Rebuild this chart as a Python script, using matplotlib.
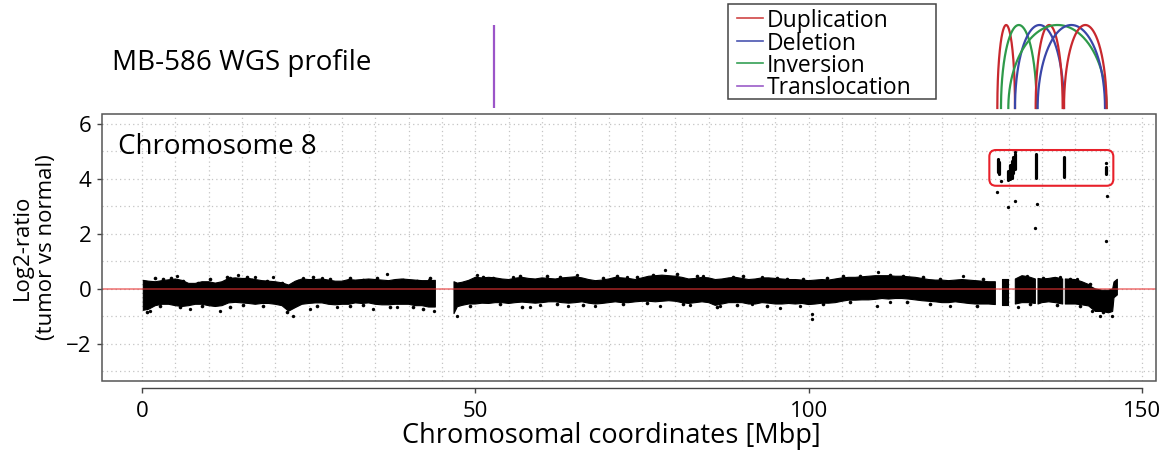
import numpy as np
import matplotlib
matplotlib.use("Agg")
import matplotlib.pyplot as plt
from matplotlib.patches import Rectangle, FancyBboxPatch

plt.rcParams['font.family'] = ['Open Sans', 'DejaVu Sans']

# ---------------- data ----------------
title = "MB-586 WGS profile"
chrom_label = "Chromosome 8"
x_label = "Chromosomal coordinates [Mbp]"
y_label_1 = "Log2-ratio"
y_label_2 = "(tumor vs normal)"
x_ticks = [0, 50, 100, 150]
y_ticks = [-2, 0, 2, 4, 6]

# envelope of the dense log2-ratio cloud (Mbp, upper, lower)
seg1_x = [0.2] + list(range(1, 45))
seg1_hi = [0.31, 0.28, 0.26, 0.30, 0.33, 0.36, 0.31, 0.20, 0.20, 0.26,
           0.26, 0.21, 0.26, 0.38, 0.40, 0.38, 0.38, 0.34, 0.30, 0.28,
           0.26, 0.22, 0.14, 0.28, 0.36, 0.34, 0.34, 0.36, 0.32, 0.28,
           0.28, 0.34, 0.32, 0.34, 0.36, 0.34, 0.32, 0.30, 0.34, 0.36,
           0.34, 0.32, 0.30, 0.30, 0.31]
seg1_lo = [-0.78, -0.74, -0.61, -0.56, -0.56, -0.61, -0.64, -0.61, -0.56, -0.56,
           -0.61, -0.64, -0.61, -0.51, -0.49, -0.51, -0.53, -0.56, -0.53, -0.53,
           -0.56, -0.61, -0.81, -0.68, -0.56, -0.53, -0.51, -0.51, -0.56, -0.58,
           -0.56, -0.56, -0.51, -0.53, -0.51, -0.56, -0.58, -0.58, -0.56, -0.56,
           -0.56, -0.61, -0.61, -0.66, -0.66]

seg2_x = [46.8, 47.3] + list(range(48, 129))
seg2_hi = [0.26, 0.21,
           0.24, 0.31,
           0.42, 0.40, 0.42, 0.40, 0.36, 0.34, 0.39, 0.42, 0.38, 0.36,
           0.40, 0.38, 0.36, 0.40, 0.42, 0.44, 0.40, 0.34, 0.30, 0.32,
           0.36, 0.42, 0.40, 0.38, 0.34, 0.40, 0.46, 0.48, 0.50, 0.48,
           0.46, 0.42, 0.36, 0.38, 0.42, 0.40, 0.34, 0.36, 0.40, 0.42,
           0.38, 0.34, 0.36, 0.40, 0.40, 0.38, 0.36, 0.34, 0.34, 0.32,
           0.30, 0.32, 0.34, 0.32, 0.36, 0.40, 0.42, 0.42, 0.44, 0.46,
           0.48, 0.48, 0.48, 0.46, 0.46, 0.44, 0.42, 0.38, 0.34, 0.32,
           0.32, 0.30, 0.32, 0.34, 0.32, 0.30, 0.28, 0.26, 0.26]
seg2_lo = [-0.90, -0.65,
           -0.60, -0.55,
           -0.55, -0.52, -0.53, -0.50, -0.50, -0.53, -0.50, -0.48, -0.50, -0.52,
           -0.50, -0.47, -0.47, -0.50, -0.52, -0.50, -0.47, -0.52, -0.55, -0.53,
           -0.50, -0.47, -0.50, -0.50, -0.47, -0.45, -0.45, -0.47, -0.45, -0.43,
           -0.45, -0.50, -0.53, -0.50, -0.47, -0.50, -0.60, -0.55, -0.50, -0.50,
           -0.50, -0.55, -0.55, -0.50, -0.52, -0.55, -0.55, -0.53, -0.55, -0.53,
           -0.57, -0.55, -0.52, -0.52, -0.50, -0.45, -0.41, -0.41, -0.40, -0.40,
           -0.38, -0.35, -0.37, -0.35, -0.35, -0.37, -0.40, -0.43, -0.45, -0.47,
           -0.50, -0.50, -0.47, -0.50, -0.53, -0.55, -0.55, -0.55, -0.57]

seg3_x = [129.0, 129.9]
seg3_hi = [0.36, 0.36]
seg3_lo = [-0.58, -0.58]

seg4_x = [131.0, 132.0, 133.0, 134.0]
seg4_hi = [0.36, 0.48, 0.44, 0.36]
seg4_lo = [-0.55, -0.50, -0.50, -0.53]

seg5_x = [134.4, 135.0, 136.0, 137.0, 138.1]
seg5_hi = [0.38, 0.36, 0.38, 0.42, 0.36]
seg5_lo = [-0.55, -0.50, -0.47, -0.50, -0.55]

seg6_x = [138.5, 140.0, 141.0, 142.0, 142.5, 143.0, 144.0, 145.0, 145.6, 145.8, 146.3]
seg6_hi = [0.36, 0.34, 0.26, 0.16, 0.06, 0.00, -0.05, -0.05, 0.00, 0.25, 0.35]
seg6_lo = [-0.55, -0.55, -0.58, -0.62, -0.72, -0.82, -0.82, -0.87, -0.82, -0.32, -0.22]

# isolated points outside the dense cloud
outlier_x = [1.2, 5.2, 7.2, 11.7, 14.45, 16.95, 19.7, 22.7, 24.2, 25.2, 26.95, 29.2, 34.7, 36.7, 38.2, 43.1, 43.8,
             47.2, 50.2, 55.7, 58.2, 59.7, 63.95, 65.2, 67.95, 72.7, 77.7, 78.45, 82.2, 84.2, 86.7, 91.45, 92.95, 95.7,
             98.7, 100.55, 100.55, 110.2, 110.45, 112.2, 121.2, 123.2, 131.45, 132.7, 137.7, 140.2, 142.45, 143.7, 145.45]
outlier_y = [-0.79, 0.46, -0.73, -0.79, 0.52, 0.42, 0.42, -0.97, 0.40, -0.73, 0.40, -0.67, -0.73, 0.55, -0.67, 0.34, -0.82,
             -0.97, 0.51, 0.42, -0.67, -0.58, -0.63, 0.51, -0.61, 0.42, -0.61, 0.67, -0.58, 0.46, -0.63, -0.55, 0.42, -0.70,
             -0.61, -1.09, -0.91, -0.61, 0.61, -0.48, -0.61, 0.46, -0.67, 0.46, 0.42, 0.36, -0.79, -0.97, -0.97]

# points on the ragged upper and lower edge of the cloud
edge_x = [1.95, 3.2, 4.3, 6.2, 8.45, 10.2, 12.7, 13.2, 15.7, 16.45, 18.7, 20.95, 23.45, 25.7, 28.2, 31.2, 33.2,
          35.2, 39.2, 41.2, 43.2,
          0.7, 2.7, 5.7, 8.95, 13.2, 15.2, 18.2, 21.7, 26.2, 31.2, 33.2, 37.2, 40.7, 42.2,
          51.2, 52.7, 56.7, 60.7, 62.7, 69.2, 71.2, 74.2, 76.7, 80.2, 83.2, 88.7, 90.2, 95.2, 96.7,
          49.2, 53.7, 56.95, 62.2, 66.2, 72.2, 75.7, 81.2, 86.2, 89.2, 93.7,
          99.2, 102.7, 105.2, 107.7, 112.2, 114.2, 117.2, 119.7, 126.2, 135.2, 139.2, 142.2,
          102.2, 106.2, 114.7, 118.2, 125.2, 133.2, 137.2, 140.7, 144.2]
edge_y = [0.39, 0.36, 0.40, 0.30, 0.22, 0.36, 0.42, 0.39, 0.42, 0.34, 0.30, 0.22, 0.30, 0.42, 0.36, 0.39, 0.34,
          0.39, 0.34, 0.30, 0.39,
          -0.85, -0.61, -0.67, -0.63, -0.67, -0.58, -0.63, -0.85, -0.61, -0.63, -0.58, -0.67, -0.67, -0.73,
          0.42, 0.39, 0.48, 0.46, 0.42, 0.39, 0.46, 0.42, 0.51, 0.55, 0.46, 0.42, 0.46, 0.39, 0.36,
          -0.61, -0.55, -0.67, -0.55, -0.58, -0.55, -0.51, -0.55, -0.67, -0.58, -0.61,
          0.36, 0.39, 0.46, 0.48, 0.51, 0.48, 0.42, 0.36, 0.36, 0.39, 0.36, 0.18,
          -0.55, -0.48, -0.46, -0.55, -0.61, -0.55, -0.58, -0.61, -0.85]

# amplified segments (vertical streaks of points) and their stray points
amp_x = [128.35, 128.6, 129.95, 130.2, 130.45, 130.7, 130.95, 134.1, 138.3, 144.6]
amp_lo = [4.25, 4.18, 3.95, 4.00, 4.05, 4.20, 4.35, 4.02, 4.06, 4.18]
amp_hi = [4.72, 4.60, 4.30, 4.50, 4.65, 4.80, 4.90, 4.89, 4.81, 4.45]
amp_pt_x = [128.85, 128.3, 129.95, 131.0, 134.3, 133.95, 144.7, 144.55, 144.6, 130.95]
amp_pt_y = [3.93, 3.52, 2.96, 3.20, 3.09, 2.23, 3.39, 1.74, 4.57, 4.96]

# highlighted amplicon region: x0, x1, y0, y1
amp_box = [127.1, 145.7, 3.75, 5.05]

# structural variants (Mbp)
sv_type = ['Duplication', 'Inversion', 'Deletion', 'Duplication', 'Inversion', 'Deletion', 'Duplication']
sv_start = [128.3, 128.85, 130.95, 134.05, 129.95, 134.35, 138.3]
sv_end = [130.95, 134.2, 138.3, 138.1, 144.7, 144.45, 144.7]
trans_pos = [52.8]

legend_labels = ['Duplication', 'Deletion', 'Inversion', 'Translocation']
legend_colors = ['#d04545', '#4a55b0', '#35a055', '#9b5cc8']
arc_colors = {'Duplication': '#c8282e', 'Deletion': '#3a46a8', 'Inversion': '#2e9a4a',
              'Translocation': '#9b55c8'}

# ---------------- figure ----------------
W, H = 1166, 462
fig = plt.figure(figsize=(W / 100, H / 100), dpi=100)
L, R, T, B = 102, 1156, 114, 381
XLIM = (-6.0, 152.1)
ax = fig.add_axes([L / W, 1 - B / H, (R - L) / W, (B - T) / H])
ax.set_xlim(*XLIM)
ax.set_ylim(-3.35, 6.36)

ax.set_xticks(x_ticks)
ax.set_xticks(np.arange(0, 151, 5), minor=True)
ax.set_yticks(y_ticks)
ax.set_yticks(np.arange(-3, 7, 1), minor=True)
ax.grid(True, which='both', color='#c4c4c4', linestyle=(0, (1, 2.5)), linewidth=0.9)
ax.set_axisbelow(True)
ax.tick_params(which='minor', length=0)
ax.tick_params(which='major', direction='out', length=3.6, width=1.0, color='#444444',
               labelsize=16, pad=4)
ax.tick_params(axis='x', pad=6)
for s in ['top', 'right', 'left']:
    ax.spines[s].set_visible(False)
ax.spines['bottom'].set_position(('outward', 5))
ax.spines['bottom'].set_bounds(0, 150)
ax.spines['bottom'].set_color('#444444')
ax.spines['bottom'].set_linewidth(1.0)
ax.add_patch(Rectangle((0, 0), 1, 1, transform=ax.transAxes, fill=False,
                       ec='#555555', lw=1.1, clip_on=False, zorder=6))

# cloud
nan = [np.nan]
cx = seg1_x + nan + seg2_x + nan + seg3_x + nan + seg4_x + nan + seg5_x + nan + seg6_x
chi = seg1_hi + nan + seg2_hi + nan + seg3_hi + nan + seg4_hi + nan + seg5_hi + nan + seg6_hi
clo = seg1_lo + nan + seg2_lo + nan + seg3_lo + nan + seg4_lo + nan + seg5_lo + nan + seg6_lo
ax.fill_between(cx, clo, chi, color='black', lw=0.8, zorder=2)
ax.plot(edge_x, edge_y, 'o', ms=2.6, color='black', mew=0, zorder=3)
ax.plot(outlier_x, outlier_y, 'o', ms=2.4, color='black', mew=0, zorder=3)
vl = ax.vlines(amp_x, amp_lo, amp_hi, color='black', lw=2.3, zorder=3)
vl.set_capstyle('round')
ax.plot(amp_pt_x, amp_pt_y, 'o', ms=2.4, color='black', mew=0, zorder=3)

ax.axhline(0, color='#e83535', alpha=0.6, lw=1.3, zorder=4)

bx0, bx1, by0, by1 = amp_box
ax.add_patch(FancyBboxPatch((bx0, by0), bx1 - bx0, by1 - by0,
                            boxstyle='round,pad=0,rounding_size=1.0',
                            mutation_aspect=0.2424, fill=False, ec='#e8202a', lw=1.5, zorder=5))

# arcs
axa = fig.add_axes([L / W, 1 - 108 / H, (R - L) / W, (108 - 25) / H])
axa.set_xlim(*XLIM)
axa.set_ylim(0, 1)
axa.axis('off')
t = np.linspace(0, np.pi, 300)
for ty, s, e in zip(sv_type, sv_start, sv_end):
    c, a = (s + e) / 2, (e - s) / 2
    axa.plot(c + a * np.cos(t), np.sin(t), color=arc_colors[ty], lw=1.6, clip_on=False)
axa.vlines(trans_pos, 0, 1, color=arc_colors['Translocation'], lw=1.6)

# overlay for texts and legend
ov = fig.add_axes([0, 0, 1, 1], zorder=10)
ov.set_xlim(0, W)
ov.set_ylim(H, 0)
ov.axis('off')
ov.text(112, 70, title, fontsize=20, ha='left', va='baseline')
ov.text(118, 154, chrom_label, fontsize=20, ha='left', va='baseline')
ov.text(22, 247, y_label_1, fontsize=16, rotation=90, ha='center', va='center')
ov.text(47, 247, y_label_2, fontsize=16, rotation=90, ha='center', va='center')
ov.text(611, 443, x_label, fontsize=19.5, ha='center', va='baseline')

ov.add_patch(Rectangle((728, 4), 208, 95, fill=False, ec='#444444', lw=1.1))
line_y = [18.3, 41.0, 62.5, 85.7]
base_y = [27, 49.5, 71.5, 94]
for lab, col, ly, by in zip(legend_labels, legend_colors, line_y, base_y):
    ov.plot([737, 763], [ly, ly], color=col, lw=1.2)
    ov.text(767, by, lab, fontsize=16.5, ha='left', va='baseline')

fig.savefig('out.png', dpi=100)
